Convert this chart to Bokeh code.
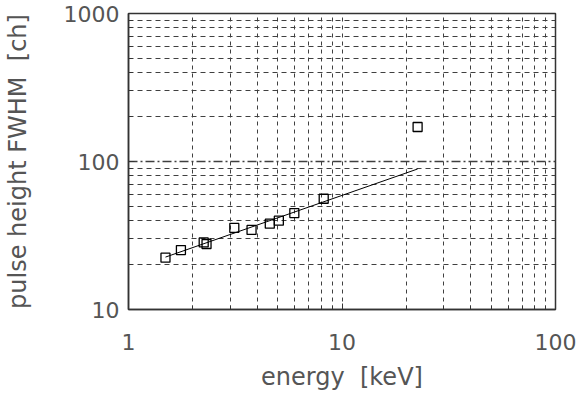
from bokeh.plotting import figure
from bokeh.models import PrintfTickFormatter, FixedTicker, Range1d
from bokeh.embed import file_html
from bokeh.resources import INLINE

# data
energy_kev = [1.49, 1.76, 2.25, 2.32, 3.13, 3.77, 4.59, 5.06, 5.98, 8.21, 22.6]
fwhm_ch = [22.4, 25.2, 28.4, 27.7, 35.6, 34.5, 38.0, 39.8, 44.8, 56.0, 171.0]
fit_x = [1.49, 22.6]
fit_y = [22.6, 89.0]

x_ticks = [1, 10, 100]
y_ticks = [10, 100, 1000]
x_minor = [m * t for t in x_ticks[:-1] for m in range(2, 10)]
y_minor = [m * t for t in y_ticks[:-1] for m in range(2, 10)]

FONT = "DejaVu Sans"
TXT = "#555555"
GRID = "#404040"

p = figure(width=580, height=393, x_axis_type="log", y_axis_type="log",
           x_range=Range1d(x_ticks[0], x_ticks[-1]),
           y_range=Range1d(y_ticks[0], y_ticks[-1]),
           output_backend="svg", toolbar_location=None,
           min_border_left=127, min_border_right=25, min_border_top=13,
           min_border_bottom=80)

p.outline_line_color = "#333333"
p.outline_line_width = 1.5
p.background_fill_color = "white"
p.border_fill_color = "white"

# grids
p.xgrid.grid_line_color = GRID
p.xgrid.grid_line_dash = "4 4"
p.xgrid.minor_grid_line_color = GRID
p.xgrid.minor_grid_line_dash = "4 4"
p.ygrid.grid_line_color = GRID
p.ygrid.grid_line_dash = "9 3 2 3"
p.ygrid.grid_line_width = 1.3
p.ygrid.minor_grid_line_color = GRID
p.ygrid.minor_grid_line_dash = "5 4"

for ax in (p.xaxis[0], p.yaxis[0]):
    ax.axis_line_color = "#333333"
    ax.axis_line_width = 1.5
    ax.major_tick_in = 6
    ax.major_tick_out = 0
    ax.minor_tick_in = 4
    ax.minor_tick_out = 0
    ax.major_tick_line_color = "#333333"
    ax.minor_tick_line_color = "#333333"
    ax.major_label_text_font = FONT
    ax.major_label_text_font_size = "22px"
    ax.major_label_text_color = TXT
    ax.axis_label_text_font = FONT
    ax.axis_label_text_font_size = "24px"
    ax.axis_label_text_font_style = "normal"
    ax.axis_label_text_color = TXT
    ax.formatter = PrintfTickFormatter(format="%d")

p.xaxis.ticker = FixedTicker(ticks=x_ticks, minor_ticks=x_minor)
p.yaxis.ticker = FixedTicker(ticks=y_ticks, minor_ticks=y_minor)
p.xaxis.axis_label = "energy\u00a0 [keV]"
p.yaxis.axis_label = "pulse height FWHM\u00a0 [ch]"
p.xaxis.major_label_standoff = 24
p.xaxis.axis_label_standoff = 10
p.yaxis.major_label_standoff = 9
p.yaxis.axis_label_standoff = 29

p.line(fit_x, fit_y, line_color="black", line_width=1)
p.scatter(energy_kev, fwhm_ch, marker="square", size=9, fill_color=None,
          line_color="black", line_width=1.3)

open("out.html", "w").write(file_html(p, INLINE))
